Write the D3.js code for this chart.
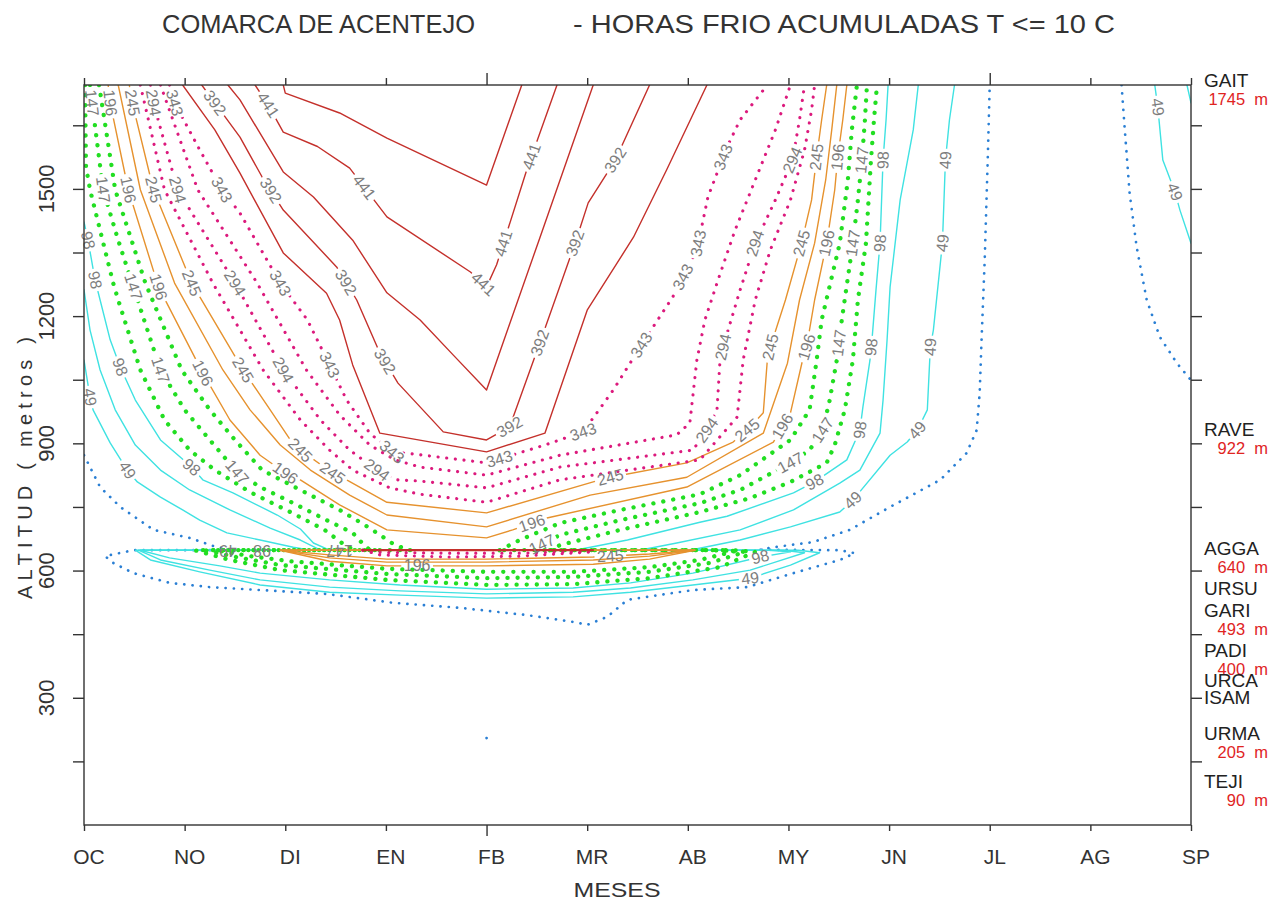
<!DOCTYPE html>
<html>
<head>
<meta charset="utf-8">
<script src="https://cdn.jsdelivr.net/npm/d3@7"></script>
<style>
  body { margin: 0; background: #fff; }
  svg { display: block; font-family: "Liberation Sans", Arial, sans-serif; }
</style>
</head>
<body>
<svg id="chart" width="1270" height="900"></svg>
<script>
// ---- axes ----
const months = ["OC","NO","DI","EN","FB","MR","AB","MY","JN","JL","AG","SP"];
const longTickMonths = ["FB","JL"];
const altTicks = [150,300,450,600,750,900,1050,1200,1350,1500,1650];
const altLabels = [300,600,900,1200,1500];

// ---- contour levels (accumulated chill hours, every 24.5 h) ----
const levels = [24.5,49,73.5,98,122.5,147,171.5,196,220.5,245,269.5,294,318.5,343,367.5,392,416.5,441,465.5];

// each isoline: list of polylines of [month index, altitude m]
const iso24_5 = [
  [[0,872],[0.16,797],[0.36,750],[0.69,696],[1.05,677],[1.32,655],[1.50,648]],
  [[1.50,648],[0.49,648],[0.21,634],[0.29,618],[0.49,594],[0.85,571],[1.25,561],[1.75,554],[2.41,545],[3.07,524],[3.74,512],[4.40,495],[4.86,479],[5.00,472],[5.20,491],[5.40,531],[6.05,554],[6.59,561],[7.05,594],[7.51,625],[7.66,641],[7.51,648],[6.72,649]],
  [[6.72,649],[6.85,655],[7.24,667],[7.61,696],[8.01,750],[8.51,814],[8.77,877],[8.87,931],[8.90,1018],[8.92,1151],[8.95,1332],[8.98,1568],[9.0,1745]],
  [[10.31,1745],[10.34,1646],[10.39,1490],[10.46,1363],[10.56,1238],[10.69,1151],[10.86,1089],[11.0,1049]],
  [[4.0,205],[4.01,206]]
];
const iso49 = [
  [[0,1096],[0.06,1009],[0.09,979],[0.26,901],[0.43,837],[0.53,809],[0.76,773],[0.98,743],[1.15,719],[1.42,689],[1.75,672],[2.08,655],[2.25,648]],
  [[2.25,648],[0.51,648],[0.66,625],[1.15,597],[1.75,566],[2.44,549],[3.14,542],[4.00,535],[4.86,538],[5.43,549],[6.05,566],[6.62,582],[7.02,613],[7.31,642],[7.10,648],[6.02,648]],
  [[6.02,648],[6.52,672],[7.02,703],[7.51,738],[7.64,766],[8.01,872],[8.18,903],[8.28,931],[8.38,979],[8.41,1127],[8.44,1167],[8.53,1372],[8.56,1568],[8.60,1663],[8.65,1745]],
  [[10.64,1745],[10.67,1693],[10.72,1568],[10.84,1493],[10.89,1450],[11.0,1372]]
];
const iso73_5 = [
  [[0,1262],[0.06,1167],[0.16,1073],[0.31,979],[0.51,896],[0.76,837],[1.05,790],[1.45,743],[1.85,700],[2.15,672],[2.35,648]],
  [[2.35,648],[0.54,648],[0.76,625],[1.25,601],[1.75,578],[2.44,561],[3.14,552],[4.00,545],[4.86,549],[5.43,559],[6.05,578],[6.62,601],[7.16,642],[6.95,648],[5.52,648]],
  [[5.52,648],[5.89,665],[6.52,696],[7.05,743],[7.51,806],[7.71,837],[7.91,924],[7.94,1002],[7.98,1144],[8.01,1269],[8.11,1474],[8.24,1639],[8.29,1745]],
  [[10.96,1745],[11.0,1703]]
];
const iso98 = [
  [[0,1422],[0.04,1379],[0.11,1285],[0.16,1238],[0.26,1144],[0.36,1080],[0.51,1002],[0.76,908],[1.07,844],[1.18,814],[1.48,783],[1.92,731],[2.15,698],[2.28,665],[2.44,648]],
  [[2.44,648],[0.56,648],[0.85,630],[1.35,611],[1.75,594],[2.44,578],[3.14,566],[4.00,556],[4.86,559],[5.43,571],[6.05,594],[6.72,632],[7.02,644],[6.80,648],[4.88,648]],
  [[4.88,648],[5.40,672],[6.12,714],[6.39,728],[7.05,783],[7.26,809],[7.58,861],[7.71,931],[7.74,986],[7.81,1096],[7.83,1144],[7.87,1262],[7.91,1372],[7.94,1568],[7.97,1663],[7.99,1745]]
];
const iso122_5 = [
  [[0.01,1745],[0.02,1552],[0.06,1498],[0.29,1278],[0.34,1238],[0.56,1073],[0.80,955],[1.05,884],[1.30,837],[1.65,785],[2.05,738],[2.39,696],[2.59,660],[2.69,648]],
  [[2.69,648],[1.10,648],[1.45,625],[1.95,601],[3.01,578],[4.00,566],[4.86,568],[5.62,582],[6.32,608],[6.67,644],[6.45,648],[4.63,648]],
  [[4.63,648],[4.73,660],[5.33,696],[6.12,738],[6.62,771],[7.02,809],[7.38,854],[7.46,896],[7.56,979],[7.64,1096],[7.69,1238],[7.77,1372],[7.82,1568],[7.85,1663],[7.88,1745]]
];
const iso147 = [
  [[0.06,1745],[0.08,1703],[0.19,1498],[0.34,1379],[0.49,1269],[0.76,1073],[1.00,979],[1.25,908],[1.52,832],[1.75,797],[2.08,759],[2.41,719],[2.67,689],[2.81,653],[2.89,648]],
  [[2.89,648],[1.20,648],[1.55,630],[1.95,613],[3.01,592],[4.00,582],[4.86,585],[5.62,597],[6.22,618],[6.57,644],[6.35,648],[4.43,648]],
  [[4.43,648],[4.58,665],[4.73,684],[5.33,719],[6.12,759],[6.52,790],[7.02,854],[7.21,884],[7.34,931],[7.41,1002],[7.48,1096],[7.53,1191],[7.64,1372],[7.69,1474],[7.73,1568],[7.76,1663],[7.78,1745]]
];
const iso171_5 = [
  [[0.15,1745],[0.31,1498],[0.61,1278],[0.97,1073],[1.25,979],[1.50,908],[1.77,837],[2.15,790],[2.54,743],[2.84,700],[3.09,660],[3.24,648]],
  [[3.24,648],[1.30,648],[1.65,634],[2.05,622],[3.01,604],[4.00,597],[4.86,597],[5.62,608],[6.12,625],[6.47,646],[6.25,648],[4.13,648]],
  [[4.13,648],[4.33,672],[4.73,712],[5.33,743],[6.12,780],[6.52,825],[7.02,908],[7.21,979],[7.28,1096],[7.33,1191],[7.51,1372],[7.59,1521],[7.63,1639],[7.68,1745]]
];
const iso196 = [
  [[0.24,1745],[0.26,1703],[0.44,1498],[0.74,1269],[1.18,1066],[1.45,955],[1.75,872],[2.00,830],[2.15,814],[2.54,755],[3.01,696],[4.00,677],[4.26,696],[4.60,724],[5.99,797],[6.85,903],[7.02,972],[7.14,1096],[7.18,1127],[7.26,1238],[7.38,1372],[7.46,1498],[7.49,1575],[7.54,1663],[7.58,1745]],
  [[1.95,648],[2.44,622],[3.01,611],[4.00,611],[5.06,615],[5.62,627],[6.07,648],[1.95,648]]
];
const iso220_5 = [
  [[0.34,1745],[0.56,1498],[0.90,1278],[1.38,1073],[1.65,979],[1.95,896],[2.25,837],[2.64,778],[3.01,731],[4.00,703],[5.03,778],[5.99,820],[6.75,924],[6.99,1089],[7.11,1238],[7.26,1372],[7.37,1521],[7.43,1639],[7.48,1745]],
  [[1.95,648],[2.44,630],[3.01,620],[4.00,620],[5.06,625],[5.62,634],[6.07,648],[1.95,648]]
];
const iso245 = [
  [[0.45,1745],[0.48,1703],[0.69,1498],[1.07,1278],[1.58,1073],[1.85,979],[2.05,908],[2.15,884],[2.47,830],[2.61,814],[3.01,761],[4.00,736],[5.06,809],[5.23,820],[5.99,854],[6.45,903],[6.59,931],[6.75,972],[6.79,1096],[6.82,1127],[6.97,1238],[7.13,1372],[7.23,1474],[7.28,1575],[7.33,1663],[7.38,1745]],
  [[1.95,648],[2.44,637],[3.01,627],[4.00,627],[5.06,632],[5.62,639],[6.07,648],[1.95,648]]
];
const iso269_5 = [
  [[0.56,1745],[0.80,1498],[1.28,1278],[1.78,1073],[2.15,955],[2.44,884],[2.67,837],[3.04,795],[3.34,780],[4.00,761],[4.73,814],[6.12,861],[6.49,962],[6.55,1096],[6.67,1238],[6.82,1356],[7.02,1474],[7.16,1592],[7.23,1686],[7.26,1745]],
  [[2.77,648],[2.94,637],[3.61,632],[4.33,634],[5.06,644],[5.08,648]]
];
const iso294 = [
  [[0.66,1745],[0.69,1703],[0.93,1498],[1.50,1278],[1.98,1073],[2.35,955],[2.64,884],[2.91,837],[3.11,814],[3.34,811],[4.00,795],[4.73,844],[6.05,884],[6.19,931],[6.29,979],[6.32,1096],[6.35,1127],[6.52,1262],[6.67,1372],[6.87,1474],[7.04,1568],[7.11,1663],[7.16,1745]],
  [[2.77,648],[2.94,643],[3.61,641],[4.33,641],[5.06,646]]
];
const iso318_5 = [
  [[0.76,1745],[1.13,1498],[1.72,1278],[2.21,1073],[2.54,967],[2.84,896],[3.09,861],[3.34,844],[4.00,825],[4.73,872],[5.89,920],[6.02,948],[6.09,1096],[6.17,1191],[6.30,1285],[6.47,1403],[6.67,1521],[6.87,1639],[7.02,1745]]
];
const iso343 = [
  [[0.85,1745],[0.90,1703],[1.15,1592],[1.37,1498],[1.55,1443],[1.95,1278],[2.22,1191],[2.44,1085],[2.61,1002],[2.84,924],[3.06,880],[3.27,875],[4.00,854],[4.58,896],[4.96,927],[5.26,1026],[5.59,1151],[5.85,1245],[6.09,1356],[6.20,1481],[6.39,1599],[6.52,1663],[6.79,1745]]
];
const iso367_5 = [
  [[0.98,1745],[1.30,1639],[1.55,1537],[1.98,1349],[2.41,1254],[2.54,1191],[2.67,1085],[2.94,924],[4.00,880],[4.58,924],[5.00,1214],[5.46,1386],[5.79,1545],[6.19,1745]],
  [[2.77,649],[5.06,649]]
];
const iso392 = [
  [[1.17,1745],[1.30,1703],[1.55,1622],[1.77,1528],[1.98,1450],[2.51,1316],[2.71,1238],[2.94,1113],[3.12,1042],[3.57,927],[4.00,908],[4.23,939],[4.53,1137],[4.88,1372],[5.01,1467],[5.28,1568],[5.62,1745]],
  [[2.77,647],[5.06,647]]
];
const iso416_5 = [
  [[1.43,1745],[1.55,1710],[1.98,1540],[2.28,1481],[2.67,1379],[3.01,1255],[3.34,1191],[3.67,1108],[4.00,1026],[4.53,1385],[5.06,1745]]
];
const iso441 = [
  [[1.70,1745],[1.83,1698],[1.98,1634],[2.32,1600],[2.64,1549],[3.01,1434],[3.84,1304],[4.00,1269],[4.10,1321],[4.40,1545],[4.70,1745]]
];
const iso465_5 = [
  [[1.98,1745],[2.00,1726],[2.54,1679],[3.01,1620],[4.00,1509],[4.35,1745]]
];
const isoPieces = [iso24_5, iso49, iso73_5, iso98, iso122_5, iso147, iso171_5, iso196, iso220_5, iso245,
                   iso269_5, iso294, iso318_5, iso343, iso367_5, iso392, iso416_5, iso441, iso465_5];

// inline contour labels: [level, month index, altitude m]
const contourLabels = [
  [49,0.06,1009],[49,0.43,837],[49,1.43,648],[49,6.62,582],[49,7.64,766],[49,8.28,931],[49,8.41,1127],[49,8.53,1372],[49,8.56,1568],[49,10.67,1693],[49,10.84,1493],
  [98,0.04,1379],[98,0.11,1285],[98,0.36,1080],[98,1.07,844],[98,1.77,648],[98,6.72,632],[98,7.26,809],[98,7.73,931],[98,7.81,1127],[98,7.91,1372],[98,7.94,1568],
  [147,0.08,1703],[147,0.19,1498],[147,0.49,1269],[147,0.76,1073],[147,1.52,832],[147,2.54,648],[147,4.53,672],[147,7.02,854],[147,7.34,931],[147,7.49,1137],[147,7.64,1372],[147,7.73,1568],
  [196,0.26,1703],[196,0.44,1498],[196,0.74,1269],[196,1.18,1066],[196,2.00,830],[196,3.31,611],[196,4.45,712],[196,6.95,939],[196,7.18,1127],[196,7.38,1372],[196,7.49,1575],
  [245,0.48,1703],[245,0.69,1498],[245,1.07,1278],[245,1.58,1073],[245,2.15,884],[245,2.47,830],[245,5.23,820],[245,5.23,634],[245,6.59,931],[245,6.82,1127],[245,7.13,1372],[245,7.28,1575],
  [294,0.69,1703],[294,0.93,1498],[294,1.50,1278],[294,1.98,1073],[294,2.91,837],[294,6.19,931],[294,6.35,1127],[294,6.67,1372],[294,7.04,1568],
  [343,0.90,1703],[343,1.37,1498],[343,1.95,1278],[343,2.44,1085],[343,3.06,880],[343,4.13,861],[343,4.96,927],[343,5.57,1127],[343,5.97,1290],[343,6.10,1372],[343,6.35,1575],
  [392,1.30,1703],[392,1.87,1498],[392,2.59,1278],[392,2.96,1089],[392,4.23,939],[392,4.53,1137],[392,4.88,1372],[392,5.28,1568],
  [441,1.83,1698],[441,2.79,1505],[441,3.96,1273],[441,4.16,1372],[441,4.46,1575]
];

// weather stations on the right margin
const stationNames = ["GAIT","RAVE","AGGA","URSU","GARI","PADI","URCA","ISAM","URMA","TEJI"];
const stationAlts  = [1745, 922, 640, 545, 493, 400, 330, 290, 205, 90];
const stationShowAlt = [true, true, true, false, true, true, false, false, true, true];

// ---- drawing ----
const W = 1270, H = 900;
const svg = d3.select("#chart");
const x = d3.scaleLinear().domain([0, months.length - 1]).range([84, 1191]);
const y = d3.scaleLinear().domain([0, 1745]).range([825, 85]);
const [x0, x1] = x.range();
const [yb, yt] = y.range();

function lineStyle(v) {
  if (v < 40)  return { stroke: "#2a7fd4", width: 2.7, dash: "0.1 8.2" };
  if (v < 110) return { stroke: "#3fe2e2", width: 1.4, dash: null };
  if (v < 185) return { stroke: "#22de22", width: 4.3, dash: "0.1 10" };
  if (v < 260) return { stroke: "#e6922e", width: 1.4, dash: null };
  if (v < 355) return { stroke: "#dc1a7d", width: 3.1, dash: "0.1 8.6" };
  return { stroke: "#c4302b", width: 1.4, dash: null };
}

// snap a label to its isoline and take the local direction of the line
function placeLabel(pix, px, py) {
  let best = null;
  pix.forEach(p => {
    for (let k = 0; k < p.length - 1; k++) {
      const [ax, ay] = p[k], [bx, by] = p[k + 1];
      const dx = bx - ax, dy = by - ay, L2 = dx * dx + dy * dy;
      if (L2 === 0) continue;
      let t = ((px - ax) * dx + (py - ay) * dy) / L2;
      t = Math.max(0, Math.min(1, t));
      const qx = ax + t * dx, qy = ay + t * dy;
      const d = (qx - px) ** 2 + (qy - py) ** 2;
      if (!best || d < best.d) best = { d, x: qx, y: qy, angle: Math.atan2(dy, dx) * 180 / Math.PI };
    }
  });
  return best;
}

const defs = svg.append("defs");
defs.append("clipPath").attr("id", "plotClip")
  .append("rect").attr("x", x0).attr("y", yt).attr("width", x1 - x0).attr("height", yb - yt);

const plotG = svg.append("g").attr("clip-path", "url(#plotClip)");
const labelG = svg.append("g");
const path = d3.line();
const fmt = v => String(v);

levels.forEach((v, i) => {
  const pix = isoPieces[i].map(p => p.map(([m, a]) => [x(m), y(a)]));
  const labs = contourLabels.filter(l => l[0] === v).map(l => {
    const pos = placeLabel(pix, x(l[1]), y(l[2]));
    return Object.assign(pos, { text: fmt(v) });
  });
  const st = lineStyle(v);

  // gaps in the line where its labels sit
  const mask = defs.append("mask").attr("id", "gap" + i)
    .attr("maskUnits", "userSpaceOnUse").attr("x", 0).attr("y", 0).attr("width", W).attr("height", H);
  mask.append("rect").attr("x", 0).attr("y", 0).attr("width", W).attr("height", H).attr("fill", "#fff");
  labs.forEach(lb => {
    const w = lb.text.length * 8.9 + 5;
    mask.append("rect")
      .attr("x", -w / 2).attr("y", -7).attr("width", w).attr("height", 14)
      .attr("transform", `translate(${lb.x},${lb.y}) rotate(${lb.angle})`)
      .attr("fill", "#000");
  });

  plotG.append("g").attr("mask", `url(#gap${i})`)
    .selectAll("path").data(pix).join("path")
    .attr("d", path)
    .attr("fill", "none")
    .attr("stroke", st.stroke)
    .attr("stroke-width", st.width)
    .attr("stroke-linecap", "round")
    .attr("stroke-linejoin", "round")
    .attr("stroke-dasharray", st.dash);

  labelG.selectAll(null).data(labs).join("text")
    .attr("transform", d => `translate(${d.x},${d.y}) rotate(${d.angle})`)
    .attr("text-anchor", "middle")
    .attr("dominant-baseline", "central")
    .attr("font-size", 16)
    .attr("fill", "#7d7d7d")
    .text(d => d.text);
});

// frame
svg.append("rect").attr("x", x0).attr("y", yt).attr("width", x1 - x0).attr("height", yb - yt)
  .attr("fill", "none").attr("stroke", "#333").attr("stroke-width", 1.4);

const axisColor = "#333";
function styleAxis(g) {
  g.select(".domain").remove();
  g.selectAll(".tick line").attr("stroke", axisColor).attr("stroke-width", 1.4);
}
const monthIdx = months.map((d, i) => i);

// left / right altitude ticks
svg.append("g").attr("transform", `translate(${x0},0)`)
  .call(d3.axisLeft(y).tickValues(altTicks).tickSize(11).tickFormat(""))
  .call(styleAxis);
svg.append("g").attr("transform", `translate(${x1},0)`)
  .call(d3.axisRight(y).tickValues(altTicks).tickSize(11).tickFormat(""))
  .call(styleAxis);

// top / bottom month ticks
svg.append("g").attr("transform", `translate(0,${yt})`)
  .call(d3.axisTop(x).tickValues(monthIdx).tickSize(7).tickFormat(""))
  .call(styleAxis)
  .selectAll(".tick line").attr("y2", d => longTickMonths.includes(months[d]) ? -12 : -7);
svg.append("g").attr("transform", `translate(0,${yb})`)
  .call(d3.axisBottom(x).tickValues(monthIdx).tickSize(6).tickFormat(""))
  .call(styleAxis)
  .selectAll(".tick line").attr("y2", d => months[d] === "FB" ? 11 : 6);

// month labels
svg.append("g").selectAll("text").data(months).join("text")
  .attr("x", (d, i) => x(i) + 5).attr("y", 864)
  .attr("text-anchor", "middle").attr("font-size", 21).attr("fill", "#333")
  .text(d => d);

// altitude labels (rotated)
svg.append("g").selectAll("text").data(altLabels).join("text")
  .attr("transform", d => `translate(46,${y(d)}) rotate(-90)`)
  .attr("text-anchor", "middle").attr("dominant-baseline", "central")
  .attr("font-size", 22).attr("fill", "#333")
  .text(d => d);

// axis titles
svg.append("text")
  .attr("transform", "translate(25,468) rotate(-90)")
  .attr("text-anchor", "middle").attr("dominant-baseline", "central")
  .attr("font-size", 20).attr("fill", "#333")
  .attr("textLength", 262).attr("lengthAdjust", "spacing")
  .text("ALTITUD ( metros )");
svg.append("text")
  .attr("x", 617).attr("y", 897).attr("text-anchor", "middle")
  .attr("font-size", 21).attr("fill", "#333")
  .attr("textLength", 87).attr("lengthAdjust", "spacingAndGlyphs")
  .text("MESES");

// title
svg.append("text").attr("x", 162).attr("y", 33)
  .attr("font-size", 25).attr("fill", "#333")
  .attr("textLength", 313).attr("lengthAdjust", "spacingAndGlyphs")
  .text("COMARCA DE ACENTEJO");
svg.append("text").attr("x", 573).attr("y", 33)
  .attr("font-size", 25).attr("fill", "#333")
  .attr("textLength", 542).attr("lengthAdjust", "spacingAndGlyphs")
  .text("- HORAS FRIO ACUMULADAS T <= 10 C");

// stations
const stG = svg.append("g");
stationNames.forEach((name, i) => {
  const a = stationAlts[i];
  stG.append("text").attr("x", 1204).attr("y", y(a) + 1.5)
    .attr("font-size", 19).attr("fill", "#222").text(name);
  if (stationShowAlt[i]) {
    stG.append("text").attr("x", 1268).attr("y", y(a) + 19.5)
      .attr("text-anchor", "end").attr("font-size", 16.5).attr("fill", "#e0241f")
      .style("white-space", "pre")
      .text(`${a}  m`);
  }
});
</script>
</body>
</html>
